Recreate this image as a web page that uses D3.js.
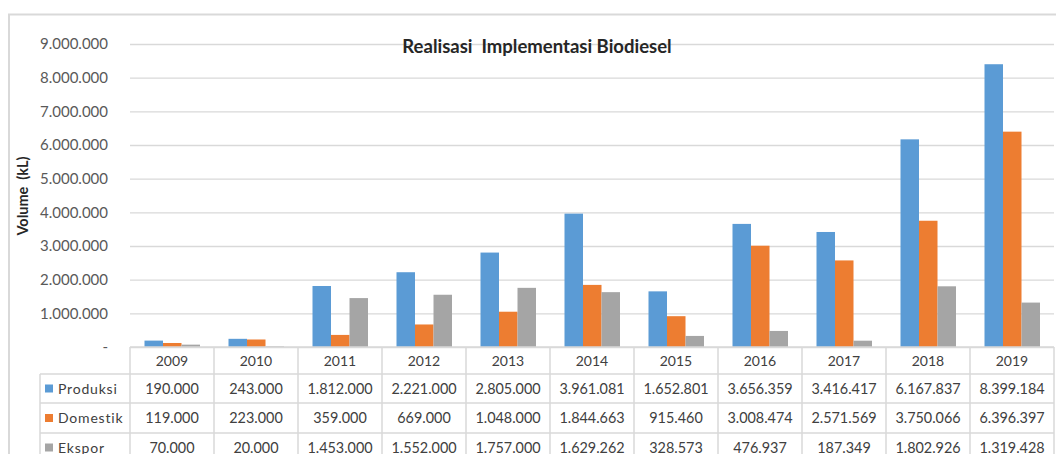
<!DOCTYPE html>
<html>
<head>
<meta charset="utf-8">
<script src="https://cdn.jsdelivr.net/npm/d3@7"></script>
<style>
  body { margin: 0; background: #fff; }
  text { font-family: Lato, "Open Sans", sans-serif; }
</style>
</head>
<body>
<div id="chart"></div>
<script>
const years = ["2009","2010","2011","2012","2013","2014","2015","2016","2017","2018","2019"];
const seriesNames = ["Produksi","Domestik","Ekspor"];
const produksi = [190000,243000,1812000,2221000,2805000,3961081,1652801,3656359,3416417,6167837,8399184];
const domestik = [119000,223000,359000,669000,1048000,1844663,915460,3008474,2571569,3750066,6396397];
const ekspor = [70000,20000,1453000,1552000,1757000,1629262,328573,476937,187349,1802926,1319428];
const yTicks = [0,1000000,2000000,3000000,4000000,5000000,6000000,7000000,8000000,9000000];
const colors = ["#5b9bd5","#ed7d31","#a5a5a5"];
const seriesValues = [produksi, domestik, ekspor];

const W = 1056, H = 454;
const idn = d3.formatLocale({decimal: ",", thousands: ".", grouping: [3], currency: ["", ""]});
const fmt = idn.format(",d");

const svg = d3.select("#chart").append("svg")
  .attr("width", W).attr("height", H);

// chart frame
svg.append("path")
  .attr("d", `M9,${H} L9,14.5 L${W},14.5`)
  .attr("fill", "none").attr("stroke", "#d9d9d9").attr("stroke-width", 2);

const plot = {left: 130, right: 1054, top: 44, bottom: 347};

const x0 = d3.scaleBand().domain(years).range([plot.left, plot.right]);
const x1 = d3.scaleBand().domain(seriesNames).range([14.5, 70]);
const y = d3.scaleLinear().domain([0, 9000000]).range([plot.bottom, plot.top]);

// gridlines + y labels
const yAxis = d3.axisLeft(y).tickValues(yTicks)
  .tickSize(-(plot.right - plot.left))
  .tickPadding(22)
  .tickFormat(d => d === 0 ? "-" : fmt(d));
const gy = svg.append("g")
  .attr("transform", `translate(${plot.left},0)`)
  .call(yAxis);
gy.select(".domain").remove();
gy.selectAll(".tick line").attr("stroke", "#d9d9d9").attr("stroke-width", 1.3);
gy.selectAll(".tick text")
  .attr("fill", "#595959").style("font-size", "15px")
  .attr("font-family", "Lato, sans-serif");

// bars
seriesNames.forEach((s, i) => {
  svg.append("g").selectAll("rect")
    .data(years.map((yr, j) => ({yr, v: seriesValues[i][j]})))
    .join("rect")
    .attr("x", d => x0(d.yr) + x1(s))
    .attr("width", x1.bandwidth())
    .attr("y", d => y(d.v))
    .attr("height", d => y(0) - y(d.v))
    .attr("fill", colors[i]);
});

// title
svg.append("text")
  .attr("x", 537).attr("y", 53)
  .attr("text-anchor", "middle")
  .style("font-size", "18.5px").style("font-weight", "bold")
  .attr("fill", "#262626")
  .attr("xml:space", "preserve")
  .text("Realisasi  Implementasi Biodiesel");

// y axis title
svg.append("text")
  .attr("transform", "translate(28,196) rotate(-90)")
  .attr("text-anchor", "middle")
  .style("font-size", "14.5px").style("font-weight", "bold")
  .attr("fill", "#262626")
  .attr("xml:space", "preserve")
  .text("Volume  (kL)");

// data table
const rowEdges = [347, 374, 403, 433, 462];
const legLeft = 40;
const tbl = svg.append("g");
const lineCol = "#d9d9d9";

// horizontal lines
rowEdges.forEach((ry, k) => {
  tbl.append("line")
    .attr("x1", k === 0 ? plot.left : legLeft).attr("x2", plot.right)
    .attr("y1", ry).attr("y2", ry)
    .attr("stroke", lineCol).attr("stroke-width", 1.5);
});
// vertical lines
years.concat(["end"]).forEach((yr, k) => {
  const xx = k < years.length ? x0(yr) : plot.right;
  tbl.append("line")
    .attr("x1", xx).attr("x2", xx)
    .attr("y1", rowEdges[0]).attr("y2", H)
    .attr("stroke", lineCol).attr("stroke-width", 1.5);
});
tbl.append("line")
  .attr("x1", legLeft).attr("x2", legLeft)
  .attr("y1", rowEdges[1]).attr("y2", H)
  .attr("stroke", lineCol).attr("stroke-width", 1.5);

// header years
tbl.selectAll("text.year")
  .data(years).join("text")
  .attr("class", "year")
  .attr("x", d => x0(d) + x0.bandwidth() / 2)
  .attr("y", (rowEdges[0] + rowEdges[1]) / 2 + 5)
  .attr("text-anchor", "middle")
  .style("font-size", "14px").attr("fill", "#404040")
  .text(d => d);

// series rows
seriesNames.forEach((s, i) => {
  const cy = (rowEdges[i + 1] + rowEdges[i + 2]) / 2;
  tbl.append("rect")
    .attr("x", legLeft + 5).attr("y", cy - 4)
    .attr("width", 8).attr("height", 8)
    .attr("fill", colors[i]);
  tbl.append("text")
    .attr("x", legLeft + 18).attr("y", cy + 5)
    .style("font-size", "14px").style("letter-spacing", "0.8px")
    .attr("fill", "#404040")
    .text(s);
  tbl.selectAll(null)
    .data(seriesValues[i]).join("text")
    .attr("x", (d, j) => x0(years[j]) + x0.bandwidth() / 2)
    .attr("y", cy + 5)
    .attr("text-anchor", "middle")
    .style("font-size", "14.4px").attr("fill", "#404040")
    .text(d => fmt(d));
});
</script>
</body>
</html>
